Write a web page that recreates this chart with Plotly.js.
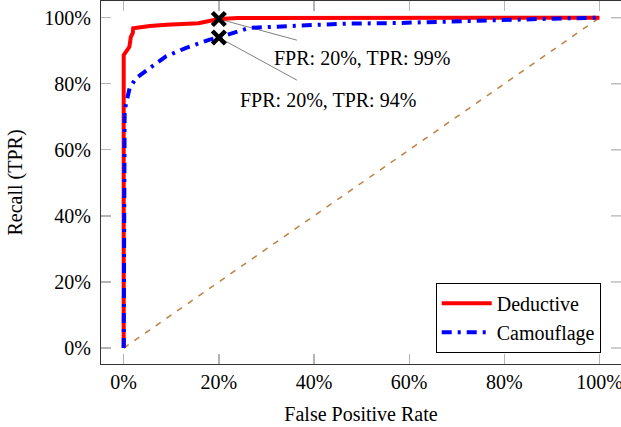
<!DOCTYPE html>
<html>
<head>
<meta charset="utf-8">
<script src="https://cdn.plot.ly/plotly-3.0.1.min.js"></script>
<style>html,body{margin:0;padding:0;background:#fff;}#chart{width:621px;height:427px;}</style>
</head>
<body>
<div id="chart"></div>
<script>
// Data (percent)
var deductiveFPR = [0, 0, 1.2, 1.5, 1.9, 2.0, 5.5, 9, 15.7, 20, 24, 40, 60, 80, 100];
var deductiveTPR = [0, 88.7, 91.2, 94.2, 95.3, 96.8, 97.5, 97.9, 98.3, 99.6, 99.9, 100, 100, 100, 100];
var camoFPR = [0, 0, 0.2, 1.25, 2.6, 5.4, 8.9, 13, 17.9, 20, 22.8, 26.3, 36.7, 47, 57.5, 69.3, 78, 90, 100];
var camoTPR = [0, 69.6, 72, 78.7, 81.7, 84.7, 88.3, 90.8, 93.3, 94, 95.4, 96.9, 97.6, 98.2, 98.4, 98.9, 99.4, 99.7, 100];
var chanceX = [0, 100];
var chanceY = [0, 100];
var markFPR = [20, 20];
var markTPR = [99.6, 94];
var markLabels = ['FPR: 20%, TPR: 99%', 'FPR: 20%, TPR: 94%'];
var pinEndX = [36.4, 36.4];
var pinEndY = [93.2, 81.1];
var labelX = [50.0, 42.9];
var labelY = [87.8, 75.2];
var tickVals = [0, 20, 40, 60, 80, 100];
var tickText = ['0%', '20%', '40%', '60%', '80%', '100%'];

var serif = '"Liberation Serif", "Times New Roman", Times, serif';
var xRange = [-4.77, 104.52];
var yRange = [-4.84, 105.06];
var plotWidthPx = 520;
var tickLenPx = 10;
var tickColor = '#b5b5b5';

var traces = [
  {x: chanceX, y: chanceY, mode: 'lines', showlegend: false,
   line: {color: '#bf8040', width: 1.5, dash: '6px,7px'}},
  {x: deductiveFPR, y: deductiveTPR, mode: 'lines', name: 'Deductive',
   line: {color: '#ff0000', width: 4}},
  {x: camoFPR, y: camoTPR, mode: 'lines', name: 'Camouflage',
   line: {color: '#0000ff', width: 4, dash: '10px,6px,3px,6px'}},
  {x: markFPR, y: markTPR, mode: 'markers', showlegend: false,
   marker: {symbol: 'x-thin', size: 13, color: '#000', line: {color: '#000', width: 4.5}}}
];

var shapes = [];
var annotations = [];
for (var i = 0; i < markFPR.length; i++) {
  shapes.push({type: 'line', xref: 'x', yref: 'y', x0: markFPR[i], y0: markTPR[i],
    x1: pinEndX[i], y1: pinEndY[i], line: {color: '#808080', width: 1}, layer: 'below'});
  annotations.push({xref: 'x', yref: 'y', x: labelX[i], y: labelY[i], text: markLabels[i],
    showarrow: false, font: {family: serif, size: 20, color: '#000'}});
}
// mirrored ticks on the right edge (frame line itself lies outside the picture)
tickVals.forEach(function (v) {
  shapes.push({type: 'line', xref: 'paper', yref: 'y', x0: 1 - tickLenPx / plotWidthPx, x1: 1,
    y0: v, y1: v, line: {color: tickColor, width: 1.3}, layer: 'below'});
});

var tickStyle = {ticks: 'inside', ticklen: tickLenPx, tickwidth: 1.3, tickcolor: tickColor};

var layout = {
  width: 621, height: 427,
  margin: {l: 101, r: 0, t: 1, b: 63},
  paper_bgcolor: '#fff', plot_bgcolor: '#fff',
  font: {family: serif, size: 20, color: '#000'},
  showlegend: true,
  legend: {x: 0.961, xanchor: 'right', y: 0.031, yanchor: 'bottom',
    bgcolor: '#fff', bordercolor: '#000', borderwidth: 1,
    font: {family: serif, size: 20, color: '#000'}, itemwidth: 50},
  xaxis: Object.assign({range: xRange, tickvals: tickVals, ticktext: tickText,
    showgrid: false, zeroline: false, showline: true, mirror: 'ticks',
    linecolor: '#333', linewidth: 1.2, ticklabeloverflow: 'allow',
    tickfont: {family: serif, size: 20, color: '#000'},
    title: {text: 'False Positive Rate', standoff: 14, font: {family: serif, size: 20, color: '#000'}}}, tickStyle),
  yaxis: Object.assign({range: yRange, tickvals: tickVals, ticktext: tickText,
    showgrid: false, zeroline: false, showline: true, mirror: false,
    linecolor: '#333', linewidth: 1.2, ticklabelstandoff: 5,
    tickfont: {family: serif, size: 20, color: '#000'},
    title: {text: 'Recall (TPR)', standoff: 16, font: {family: serif, size: 20, color: '#000'}}}, tickStyle),
  shapes: shapes,
  annotations: annotations
};

Plotly.newPlot('chart', traces, layout, {displayModeBar: false, staticPlot: true});
</script>
</body>
</html>
